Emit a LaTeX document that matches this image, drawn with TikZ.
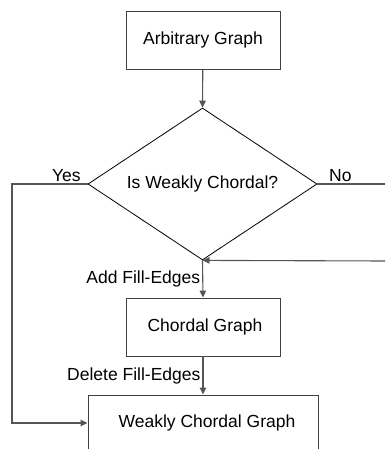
\documentclass[tikz,border=0pt]{standalone}
\usepackage{fontspec}
\setmainfont{Liberation Sans}
\usetikzlibrary{shapes.geometric, arrows.meta, positioning}
\definecolor{boxcolor}{RGB}{64,64,64}
\definecolor{flowcolor}{RGB}{85,85,85}

\begin{document}
\begin{tikzpicture}[
    x=1pt, y=1pt,
    font=\fontsize{17.5}{19}\selectfont,
    stage/.style={draw=boxcolor, line width=0.9pt, minimum width=154pt, minimum height=58pt, inner sep=0pt},
    decision/.style={draw, diamond, line width=0.8pt, minimum width=229pt, minimum height=152pt, inner sep=0pt, aspect=1.5},
    flow/.style={-{Triangle[length=7pt, width=6.5pt]}, line width=1.1pt, flowcolor},
    plain/.style={line width=1.1pt, flowcolor},
    lbl/.style={inner sep=2pt, text=black}
]
    \useasboundingbox (0,0) rectangle (385,449);

    \node[stage] (arb) at (203,409) {Arbitrary Graph};
    \node[decision] (dec) at (202.5,265) {Is Weakly Chordal?};
    \node[stage] (chordal) at (203,122) {\hspace{4pt}Chordal Graph};
    \node[stage, minimum width=230pt, minimum height=56pt] (wcg) at (203,26) {\hspace{8pt}Weakly Chordal Graph};

    \coordinate (yescorner) at (12,265);
    \coordinate (noend) at (385,265);
    \coordinate (backstart) at (385,188);

    \draw[flow] (arb) -- (dec.north);
    \draw[flow] (dec.west) -- node[lbl, pos=0.28, above] {Yes} (yescorner) |- (wcg.west);
    \draw[plain] (dec.east) -- node[lbl, pos=0.34, above] {No} (noend);
    \draw[flow] (backstart) -- (dec.south);
    \draw[flow] (dec.south) -- node[lbl, midway, left] {Add Fill-Edges} (chordal.north);
    \draw[flow] (chordal.south) -- node[lbl, midway, left] {Delete Fill-Edges} (wcg.north);
\end{tikzpicture}
\end{document}
